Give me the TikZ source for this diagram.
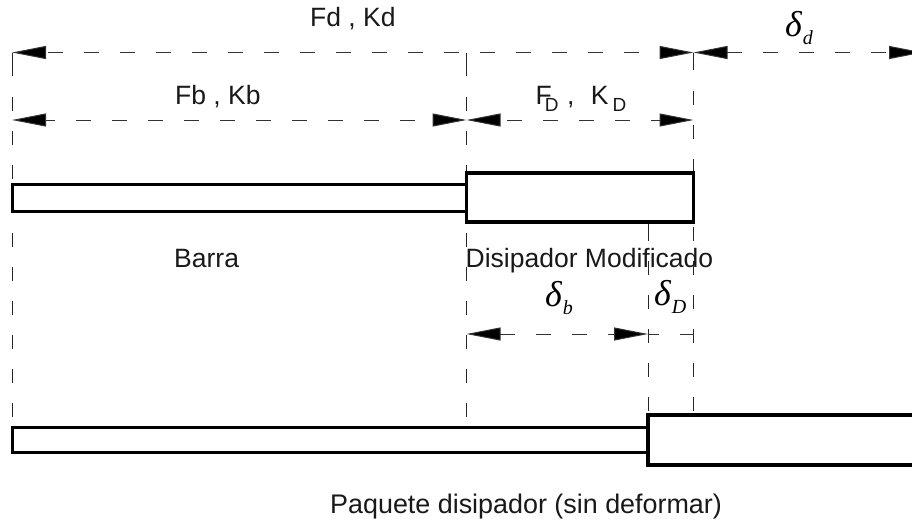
\documentclass[tikz,border=0pt]{standalone}
\usepackage{fontspec}
\setmainfont{Liberation Sans}
\newfontfamily\dfont[ItalicFont=Liberation Serif Italic]{Liberation Serif}
\usetikzlibrary{arrows.meta}
\newcommand{\dlt}[1]{{\dfont\itshape\fontsize{36}{36}\selectfont δ\kern1pt\raisebox{-8pt}{\fontsize{20}{20}\selectfont #1}}}
\tikzset{
  x=1pt,y=-1pt,
  txt/.style={inner sep=0pt,font=\fontsize{26.5}{30}\selectfont,anchor=base west,text=black!90},
  dim/.style={line width=1pt,draw=black!80,dash pattern=on 15pt off 21pt},
  tips/.style={{Triangle[length=34pt,width=13pt,fill=black]}-{Triangle[length=34pt,width=13pt,fill=black]}},
  ext/.style={line width=1pt,draw=black!85,dash pattern=on 14pt off 20pt},
  stub/.style={line width=1pt,draw=black!85},
  barbox/.style={draw=black,line width=3pt,fill=white,inner sep=0pt,outer sep=0pt,anchor=north west},
  bigbox/.style={draw=black,line width=3.6pt,fill=white,inner sep=0pt,outer sep=0pt,anchor=north west},
}
\begin{document}
\begin{tikzpicture}
\useasboundingbox (0,0) rectangle (912,520);
\clip (0,0) rectangle (912,520);
% anchors
\coordinate (tA) at (12,52.5);
\coordinate (tB) at (466.5,52.5);
\coordinate (tC) at (693.5,52.5);
\coordinate (tE) at (923,52.5);
\coordinate (mA) at (12,120);
\coordinate (mB) at (466.5,120);
\coordinate (mC) at (693.5,120);
\coordinate (dB) at (466.5,334);
\coordinate (dM) at (648,334);
\coordinate (dC) at (693.5,334);
\coordinate (upM) at (648,222);
\coordinate (upMs) at (648,241);
\coordinate (upMe) at (648,261);
\coordinate (sA) at (12,76);
\coordinate (sB) at (466.5,76);
\coordinate (sC) at (693.5,70);
\coordinate (eA) at (12,97);
\coordinate (eB) at (466.5,97);
\coordinate (eC) at (693.5,91);
\coordinate (loA) at (12,427);
\coordinate (loB) at (466.5,427);
\coordinate (loM) at (648,415);
\coordinate (loC) at (693.5,415);
% extension lines
\draw[stub] (tA) -- (sA);
\draw[stub] (tB) -- (sB);
\draw[stub] (tC) -- (sC);
\draw[stub] (upM) -- (upMs);
\draw[ext] (eA) -- (loA);
\draw[ext] (eB) -- (loB);
\draw[ext] (eC) -- (loC);
\draw[ext] (upMe) -- (loM);
% shapes
\node[barbox,minimum width=455pt,minimum height=27pt] (barU) at (12,184) {};
\node[bigbox,minimum width=227pt,minimum height=49pt] (boxU) at (466.5,173) {};
\node[barbox,minimum width=636pt,minimum height=25pt] (barL) at (12,427) {};
\node[bigbox,minimum width=290pt,minimum height=50pt] (boxL) at (648,415) {};
% dimension lines
\draw[dim,tips,dash phase=34pt] (tA) -- (tC);
\draw[dim,tips,dash phase=0pt] (tC) -- (tE);
\draw[dim,tips,dash phase=6pt] (mA) -- (mB);
\draw[dim,tips,dash phase=29pt] (mB) -- (mC);
\draw[dim,tips,dash phase=0pt] (dB) -- (dM);
\draw[dim,dash phase=4pt] (dM) -- (dC);
% labels
\node[txt] (l1) at (310,26) {Fd , Kd};
\node[txt] (l2) at (175,104) {Fb , Kb};
\node[txt] (l3) at (535.5,104) {F\kern-7pt\raisebox{-7pt}{\fontsize{19}{20}\selectfont D}\kern8.5pt,\kern16.5pt K\kern4pt\raisebox{-7pt}{\fontsize{19}{20}\selectfont D}};
\node[txt] (l4) at (174,267) {Barra};
\node[txt] (l5) at (465.5,267) {Disipador Modificado};
\node[txt,font=\fontsize{26.9}{30}\selectfont] (l6) at (330,513) {Paquete disipador (sin deformar)};
\node[inner sep=0pt,anchor=base west] (d1) at (785,36) {\dlt{d}};
\node[inner sep=0pt,anchor=base west] (d2) at (545,306) {\dlt{b}};
\node[inner sep=0pt,anchor=base west] (d3) at (654,305) {\dlt{D}};
\end{tikzpicture}
\end{document}
